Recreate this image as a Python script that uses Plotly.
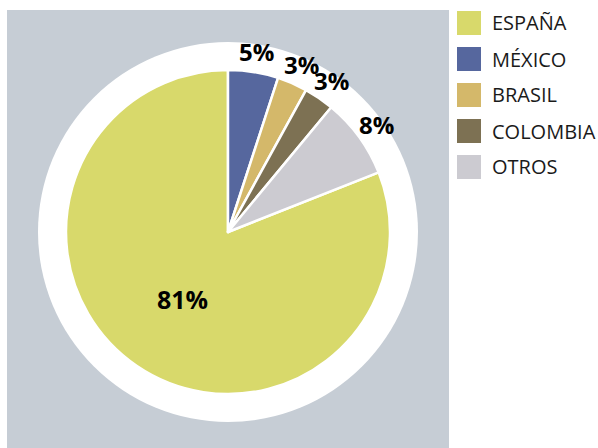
import math
import plotly.graph_objects as go

labels = ["ESPAÑA", "MÉXICO", "BRASIL", "COLOMBIA", "OTROS"]
values = [81, 5, 3, 3, 8]
colors = ["#d8d96b", "#56679e", "#d4b86a", "#7d7153", "#cccbd1"]

W, H = 598, 448


def px(x):
    return x / W


def py(y):
    return (H - y) / H


cx, cy, r = 228, 232, 162  # pie centre / radius in screen px
label_r = 184               # radius of the outer percentage labels

total = sum(values)
# slices drawn clockwise from 12 o'clock: MÉXICO, BRASIL, COLOMBIA, OTROS, then ESPAÑA
rotation = 360 * sum(values[1:]) / total

fig = go.Figure()
fig.add_trace(go.Pie(
    labels=labels, values=values, sort=False, direction="clockwise",
    rotation=rotation,
    marker=dict(colors=colors, line=dict(color="white", width=2.5)),
    texttemplate=["%{value}%"] + [""] * (len(values) - 1),
    textposition="inside", insidetextorientation="horizontal",
    textfont=dict(family="Open Sans", size=25, color="black", weight="bold"),
    showlegend=False, hoverinfo="label+percent",
    domain=dict(x=[px(cx - r), px(cx + r)], y=[py(cy + r), py(cy - r)]),
))

shapes = [
    dict(type="rect", xref="paper", yref="paper", x0=px(7), x1=px(449), y0=0, y1=py(10),
         fillcolor="#c6cdd5", line=dict(width=0), layer="below"),
    dict(type="circle", xref="paper", yref="paper", x0=px(cx - 190), x1=px(cx + 190),
         y0=py(cy + 190), y1=py(cy - 190), fillcolor="white", line=dict(width=0), layer="below"),
]
annotations = []

# outer percentage labels for the small slices, placed at each slice's mid-angle
cum = 0.0
for v in values[1:]:
    mid = (cum + v / 2) / total * 2 * math.pi
    cum += v
    x = cx + label_r * math.sin(mid)
    y = cy - label_r * math.cos(mid)
    annotations.append(dict(xref="paper", yref="paper", x=px(x), y=py(y + 1), text=f"{v}%",
                            showarrow=False, xanchor="center", yanchor="middle",
                            font=dict(family="Open Sans", size=24, color="black", weight="bold")))

# legend
for i, (lab, col) in enumerate(zip(labels, colors)):
    yc = 23 + 36 * i
    shapes.append(dict(type="rect", xref="paper", yref="paper", x0=px(457), x1=px(481),
                       y0=py(yc + 12), y1=py(yc - 12), fillcolor=col, line=dict(width=0)))
    annotations.append(dict(xref="paper", yref="paper", x=px(490), y=py(yc), text=lab,
                            showarrow=False, xanchor="left", yanchor="middle",
                            font=dict(family="Open Sans", size=20, color="#1a1a1a")))

fig.update_layout(width=W, height=H, margin=dict(l=0, r=0, t=0, b=0),
                  paper_bgcolor="white", plot_bgcolor="white",
                  shapes=shapes, annotations=annotations)
fig.write_html("out.html", config={"displayModeBar": False},
               post_script="document.body.style.margin='0';document.body.style.overflow='hidden';")
